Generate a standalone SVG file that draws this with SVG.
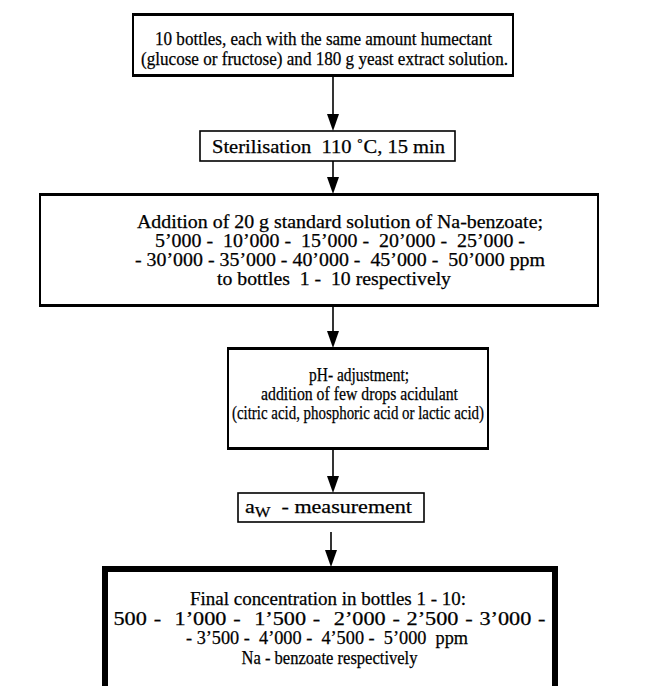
<svg xmlns="http://www.w3.org/2000/svg" width="648" height="686" viewBox="0 0 648 686">
<style>
.box{fill:#fff;stroke:#000}
.t{font-family:"Liberation Serif","Times New Roman",serif;font-size:18.5px;fill:#000;text-anchor:middle;white-space:pre;stroke:#000;stroke-width:0.25}
.c{stroke:#000;stroke-width:1.6;fill:none}
.edge{stroke:#000;fill:none}
</style>
<rect width="648" height="686" fill="#fff"/>
<g id="connectors">
<line class="c" x1="333" y1="76" x2="333" y2="116"/>
<line class="c" x1="333" y1="161" x2="333" y2="180"/>
<line class="c" x1="333" y1="306" x2="333" y2="333"/>
<line class="c" x1="333" y1="449" x2="333" y2="478"/>
<line class="c" x1="331" y1="532" x2="331" y2="552"/>
<path d="M327,114 L339,114 L333,131 Z"/>
<path d="M327,177 L339,177 L333,194 Z"/>
<path d="M327,331 L339,331 L333,348 Z"/>
<path d="M327,476 L339,476 L333,493 Z"/>
<path d="M325,550 L337,550 L331,567 Z"/>
</g>
<g id="n1">
<rect class="box" x="133" y="14" width="380" height="62" stroke-width="2"/>
<path class="edge" d="M132,14.5 H514 M132,75.5 H514" stroke-width="3"/>
<text class="t" x="323.5" y="45" textLength="337" lengthAdjust="spacingAndGlyphs">10 bottles, each with the same amount humectant</text>
<text class="t" x="324.5" y="65" textLength="367" lengthAdjust="spacingAndGlyphs">(glucose or fructose) and 180 g yeast extract solution.</text>
</g>
<g id="n2">
<rect class="box" x="200" y="131" width="255" height="30" stroke-width="1.6"/>
<text class="t" x="328.5" y="153" textLength="233" lengthAdjust="spacingAndGlyphs">Sterilisation  110 ˚C, 15 min</text>
</g>
<g id="n3">
<rect class="box" x="40" y="194" width="558" height="112" stroke-width="2"/>
<path class="edge" d="M39,194.5 H599 M39,305.5 H599" stroke-width="3"/>
<text class="t" x="340" y="228" textLength="406" lengthAdjust="spacingAndGlyphs">Addition of 20 g standard solution of Na-benzoate;</text>
<text class="t" x="340" y="247" textLength="370" lengthAdjust="spacingAndGlyphs">5’000 -  10’000 -  15’000 -  20’000 -  25’000 -</text>
<text class="t" x="340" y="266" textLength="410" lengthAdjust="spacingAndGlyphs">- 30’000 - 35’000 - 40’000 -  45’000 -  50’000 ppm</text>
<text class="t" x="334" y="285" textLength="234" lengthAdjust="spacingAndGlyphs">to bottles  1 -  10 respectively</text>
</g>
<g id="n4">
<rect class="box" x="228" y="348" width="260" height="101" stroke-width="2"/>
<path class="edge" d="M227,348.5 H489 M227,448.5 H489" stroke-width="3"/>
<text class="t" x="359" y="381" textLength="100" lengthAdjust="spacingAndGlyphs">pH- adjustment;</text>
<text class="t" x="359.5" y="400" textLength="197" lengthAdjust="spacingAndGlyphs">addition of few drops acidulant</text>
<text class="t" x="358" y="419" textLength="252" lengthAdjust="spacingAndGlyphs">(citric acid, phosphoric acid or lactic acid)</text>
</g>
<g id="n5">
<rect class="box" x="238" y="493" width="186" height="29" stroke-width="1.6"/>
<text class="t" x="328.5" y="513" textLength="167" lengthAdjust="spacingAndGlyphs">a<tspan font-size="14" dy="4">W</tspan><tspan dy="-4">  - measurement</tspan></text>
</g>
<g id="n6">
<rect class="box" x="105" y="569" width="450" height="130" stroke-width="6"/>
<text class="t" x="328" y="605" textLength="276" lengthAdjust="spacingAndGlyphs">Final concentration in bottles 1 - 10:</text>
<text class="t" x="329.5" y="625" word-spacing="1" textLength="432" lengthAdjust="spacingAndGlyphs">500 -  1’000 -  1’500 -  2’000 - 2’500 - 3’000 -</text>
<text class="t" x="327" y="644" textLength="282" lengthAdjust="spacingAndGlyphs">- 3’500 -  4’000 -  4’500 -  5’000  ppm</text>
<text class="t" x="329.5" y="664" textLength="176" lengthAdjust="spacingAndGlyphs">Na - benzoate respectively</text>
</g>
</svg>
